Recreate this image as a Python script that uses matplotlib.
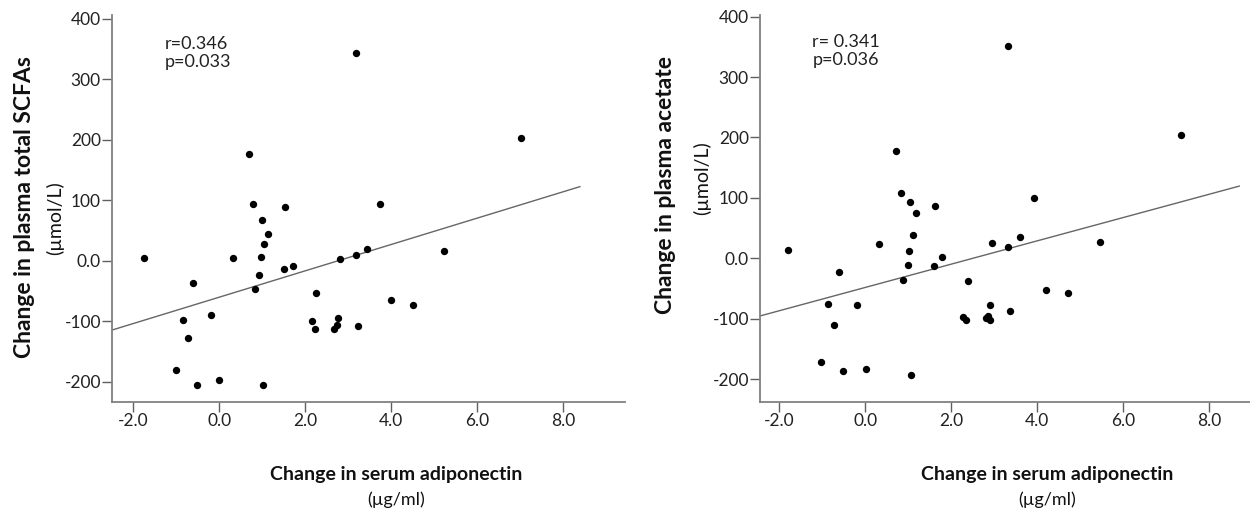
import numpy as np
import matplotlib
matplotlib.use("Agg")
import matplotlib.pyplot as plt

plt.rcParams['font.family'] = ['Lato', 'DejaVu Sans']

# Left panel: change in adiponectin vs change in total SCFAs
scfa_x = [-1.75, -0.61, -0.85, -0.73, -1.0, -0.51, -0.2, 0.0, 0.31, 0.68,
          0.78, 0.99, 1.13, 1.04, 0.96, 0.93, 0.82, 1.02, 1.54, 1.51,
          1.71, 3.18, 7.03, 3.74, 3.44, 3.18, 2.82, 5.23, 2.26, 4.0,
          4.51, 2.16, 2.22, 2.77, 2.73, 2.67, 3.22]
scfa_y = [5, -37, -97, -127, -180, -205, -90, -196, 5, 176,
          93, 68, 45, 27, 7, -24, -47, -205, 89, -14,
          -9, 343, 202, 93, 20, 10, 3, 17, -53, -65,
          -73, -100, -113, -95, -106, -113, -107]

# Right panel: change in adiponectin vs change in acetate
acet_x = [-1.81, -0.62, -0.87, -0.74, -1.03, -0.51, -0.19, 0.02, 0.33, 0.72,
          0.83, 1.04, 1.18, 1.11, 1.02, 0.99, 0.88, 1.07, 1.62, 1.59,
          1.79, 3.33, 7.35, 3.92, 3.61, 3.33, 2.95, 5.47, 2.38, 4.2,
          4.72, 2.91, 2.27, 2.34, 2.80, 2.85, 2.9, 3.36]
acet_y = [13, -23, -75, -111, -171, -187, -77, -183, 24, 177,
          108, 93, 75, 38, 12, -12, -36, -194, 87, -13,
          2, 351, 204, 99, 35, 19, 25, 27, -38, -53,
          -57, -77, -97, -103, -99, -96, -103, -88]

xticks = [-2.0, 0.0, 2.0, 4.0, 6.0, 8.0]
yticks = [-200, -100, 0, 100, 200, 300, 400]
ytick_labels = ['-200', '-100', '0.0', '100', '200', '300', '400']

panels = [
    dict(x=scfa_x, y=scfa_y, rect=[0.0896, 0.221, 0.4104, 0.749],
         xlim=(-2.5, 9.45), ylim=(-233, 405), fit_end=8.4,
         stats='r=0.346\np=0.033', stats_pos=(0.132, 0.930),
         ylab='Change in plasma total SCFAs', ylab_x=0.020, ylab_y=0.598,
         unit_x=0.044, unit_y=0.578, xlab_x=0.317),
    dict(x=acet_x, y=acet_y, rect=[0.608, 0.221, 0.392, 0.749],
         xlim=(-2.45, 8.95), ylim=(-238, 402), fit_end=8.7,
         stats='r= 0.341\np=0.036', stats_pos=(0.650, 0.934),
         ylab='Change in plasma acetate', ylab_x=0.532, ylab_y=0.642,
         unit_x=0.562, unit_y=0.655, xlab_x=0.838),
]

fig = plt.figure(figsize=(12.5, 5.16), dpi=100)

for p in panels:
    ax = fig.add_axes(p['rect'])
    ax.scatter(p['x'], p['y'], s=28, color='black', zorder=3, linewidths=0)

    # least squares fit line
    slope, icpt = np.polyfit(p['x'], p['y'], 1)
    xs = np.array([p['xlim'][0], p['fit_end']])
    ax.plot(xs, slope * xs + icpt, color='#666666', lw=1.0, zorder=2)

    ax.set_xlim(*p['xlim'])
    ax.set_ylim(*p['ylim'])
    ax.set_xticks(xticks)
    ax.set_xticklabels(['%.1f' % t for t in xticks])
    ax.set_yticks(yticks)
    ax.set_yticklabels(ytick_labels)
    for s in ['top', 'right']:
        ax.spines[s].set_visible(False)
    for s in ['left', 'bottom']:
        ax.spines[s].set_color('#808080')
        ax.spines[s].set_linewidth(1.3)
    ax.tick_params(axis='both', colors='#606060', labelcolor='#222222',
                   labelsize=12.5, length=7, width=1.0)
    ax.tick_params(axis='x', pad=1)
    ax.tick_params(axis='y', pad=1)

    fig.text(p['stats_pos'][0], p['stats_pos'][1], p['stats'], fontsize=13,
             color='#222222', va='top', ha='left', linespacing=1.15)

    fig.text(p['ylab_x'], p['ylab_y'], p['ylab'], rotation=90, fontsize=16.5,
             fontweight='bold', ha='center', va='center', color='#111111')
    fig.text(p['unit_x'], p['unit_y'], '(\u00b5mol/L)', rotation=90, fontsize=14,
             ha='center', va='center', color='#111111')
    fig.text(p['xlab_x'], 0.080, 'Change in serum adiponectin', fontsize=14,
             fontweight='bold', ha='center', va='center', color='#111111')
    fig.text(p['xlab_x'], 0.031, '(\u00b5g/ml)', fontsize=13,
             ha='center', va='center', color='#111111')

fig.savefig('out.png', dpi=100)
